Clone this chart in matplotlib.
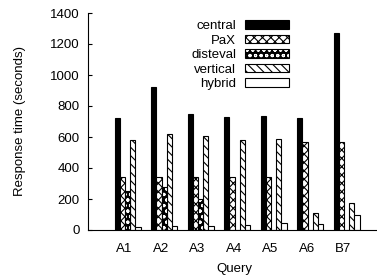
import matplotlib

matplotlib.use("Agg")
import matplotlib.pyplot as plt
from matplotlib.legend_handler import HandlerTuple
from matplotlib.patches import Patch
import numpy as np

queries = ["A1", "A2", "A3", "A4", "A5", "A6", "B7"]
central = [725, 920, 750, 731, 735, 724, 1270]
pax = [344, 344, 344, 344, 344, 566, 566]
disteval = [254, 275, 198, 0, 0, 0, 0]
vertical = [579, 619, 606, 581, 585, 112, 172]
hybrid = [19, 28, 28, 32, 43, 39, 99]

SERIES = [
    ("central", central, {"facecolor": "black", "hatch": None}),
    ("PaX", pax, {"facecolor": "white", "hatch": "xxxx"}),
    ("disteval", disteval, {"facecolor": "black", "hatch": "ooo"}),
    ("vertical", vertical, {"facecolor": "white", "hatch": "\\\\\\\\"}),
    ("hybrid", hybrid, {"facecolor": "white", "hatch": None}),
]

plt.rcParams.update(
    {
        "font.family": ["Liberation Sans", "DejaVu Sans"],
        "font.size": 9.5,
        "hatch.linewidth": 0.8,
    }
)

fig = plt.figure(figsize=(3.77, 2.79), dpi=100)
ax = fig.add_axes([88 / 377, 1 - 230 / 279, 292 / 377, 217 / 279])

x = np.arange(len(queries))
width = 1 / 7
handles = []
labels = []
for k, (name, values, style) in enumerate(SERIES):
    pos = x + (k - 1.4) * width
    if name == "disteval":
        # white dots on a black bar, outlined in black
        ax.bar(pos, values, width, color="black", linewidth=0, zorder=2)
        ax.bar(pos, values, width, fill=False, edgecolor="white", hatch=style["hatch"],
               linewidth=0, zorder=3)
        ax.bar(pos, values, width, fill=False, edgecolor="black", linewidth=0.8, zorder=4)
        handle = (
            Patch(facecolor="black", linewidth=0),
            Patch(fill=False, edgecolor="white", hatch=style["hatch"], linewidth=0),
            Patch(fill=False, edgecolor="black", linewidth=0.8),
        )
    else:
        ax.bar(pos, values, width, facecolor=style["facecolor"], edgecolor="black",
               hatch=style["hatch"], linewidth=0.8, zorder=2)
        handle = Patch(facecolor=style["facecolor"], edgecolor="black",
                       hatch=style["hatch"], linewidth=0.8)
    handles.append(handle)
    labels.append(name)

ax.set_xlim(-1, 7)
ax.set_ylim(0, 1400)
ax.set_yticks(range(0, 1401, 200))
ax.set_xticks(x)
ax.set_xticklabels(queries)
ax.tick_params(axis="x", length=0, pad=9)
ax.tick_params(axis="y", direction="in", length=3, pad=6)
for side in ("top", "right"):
    ax.spines[side].set_visible(False)
ax.set_xlabel("Query", labelpad=6)
ax.set_ylabel("Response time (seconds)", labelpad=17)

ax.legend(
    handles=handles,
    labels=labels,
    handler_map={tuple: HandlerTuple(ndivide=1, pad=0)},
    loc="upper right",
    bbox_to_anchor=(289 / 377, 1 - 20 / 279),
    bbox_transform=fig.transFigure,
    frameon=False,
    markerfirst=False,
    borderpad=0,
    borderaxespad=0,
    handlelength=3.3,
    handleheight=0.6,
    handletextpad=0.7,
    labelspacing=0.19,
)

fig.savefig("out.png", dpi=100)
